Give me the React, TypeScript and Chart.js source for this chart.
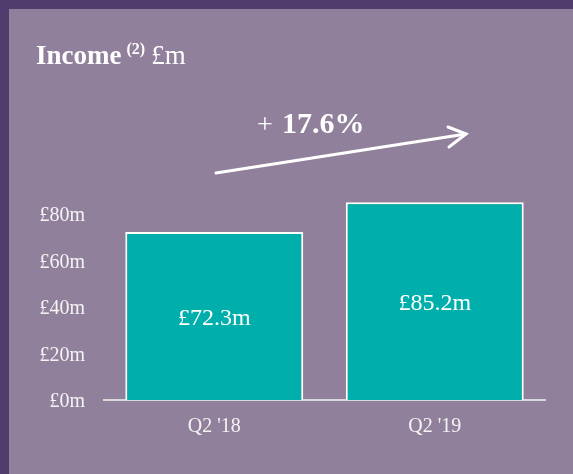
import React, { useEffect, useRef } from "react";
import { Chart, registerables } from "chart.js";

Chart.register(...registerables);

const categories = ["Q2 '18", "Q2 '19"];
const incomeValues = [72.3, 85.2];
const valueLabels = ["£72.3m", "£85.2m"];
const yTickValues = [0, 20, 40, 60, 80];

const SERIF = '"Liberation Serif", "Times New Roman", serif';

const barLabelPlugin = {
  id: "barLabels",
  afterDatasetsDraw(chart: any) {
    const ctx = chart.ctx;
    const meta = chart.getDatasetMeta(0);
    ctx.save();
    ctx.fillStyle = "#ffffff";
    ctx.font = `24px ${SERIF}`;
    ctx.textAlign = "center";
    ctx.textBaseline = "middle";
    meta.data.forEach((bar: any, i: number) => {
      const y = (bar.y + bar.base) / 2 + 3;
      ctx.fillText(valueLabels[i], bar.x, y);
    });
    ctx.restore();
  },
};

export default function App() {
  const canvasRef = useRef<HTMLCanvasElement | null>(null);

  useEffect(() => {
    document.body.style.margin = "0";
    const canvas = canvasRef.current;
    if (!canvas) return;
    const chart = new Chart(canvas, {
      type: "bar",
      data: {
        labels: categories,
        datasets: [
          {
            data: incomeValues,
            backgroundColor: "#00AEAB",
            borderColor: "#ffffff",
            borderWidth: 2,
            barPercentage: 0.807,
            categoryPercentage: 1,
          },
        ],
      },
      options: {
        responsive: false,
        animation: false,
        layout: { padding: { top: 182, right: 28, bottom: 0, left: 0 } },
        plugins: {
          legend: { display: false },
          tooltip: { enabled: false },
        },
        scales: {
          x: {
            grid: { display: false, drawTicks: false },
            border: { display: true, color: "#d9d9d9", width: 2 },
            ticks: {
              color: "#f4f4f4",
              font: { family: SERIF, size: 20 },
              padding: 15,
            },
            afterFit: (scale: any) => {
              scale.height = 74;
            },
          },
          y: {
            min: 0,
            max: 90,
            grid: { display: false, drawTicks: false },
            border: { display: false },
            ticks: {
              stepSize: 20,
              color: "#f4f4f4",
              font: { family: SERIF, size: 20 },
              padding: 19,
              labelOffset: 2,
              callback: (v: any) => `£${v}m`,
            },
            afterBuildTicks: (scale: any) => {
              scale.ticks = yTickValues.map((v) => ({ value: v }));
            },
            afterFit: (scale: any) => {
              scale.width = 95;
            },
          },
        },
      },
      plugins: [barLabelPlugin],
    });
    return () => chart.destroy();
  }, []);

  return (
    <div style={{ position: "fixed", inset: 0, background: "#503D6E" }}>
      <div
        style={{
          position: "absolute",
          left: 9,
          top: 9,
          right: 0,
          bottom: 0,
          background: "#91809B",
        }}
      >
        <canvas
          ref={canvasRef}
          width={564}
          height={465}
          style={{ position: "absolute", left: 0, top: 0, width: 564, height: 465 }}
        />
        <svg
          width={564}
          height={465}
          style={{ position: "absolute", left: 0, top: 0, pointerEvents: "none" }}
        >
          <text x={27} y={55} fill="#ffffff" fontFamily={SERIF}>
            <tspan fontSize={27} fontWeight="bold">Income</tspan>
            <tspan fontSize={16} fontWeight="bold" dx={5} dy={-10}>(2)</tspan>
            <tspan fontSize={27} dx={6} dy={10}>£m</tspan>
          </text>
          <text x={248} y={124} fill="#ffffff" fontFamily={SERIF} fontSize={28}>+</text>
          <text x={273} y={124} fill="#ffffff" fontFamily={SERIF} fontSize={30} fontWeight="bold">
            17.6%
          </text>
          <line x1={207} y1={164} x2={457} y2={125} stroke="#ffffff" strokeWidth={3} strokeLinecap="round" />
          <polyline
            points="439,118 457,125 440,138"
            fill="none"
            stroke="#ffffff"
            strokeWidth={3}
            strokeLinecap="round"
            strokeLinejoin="miter"
          />
        </svg>
      </div>
    </div>
  );
}
